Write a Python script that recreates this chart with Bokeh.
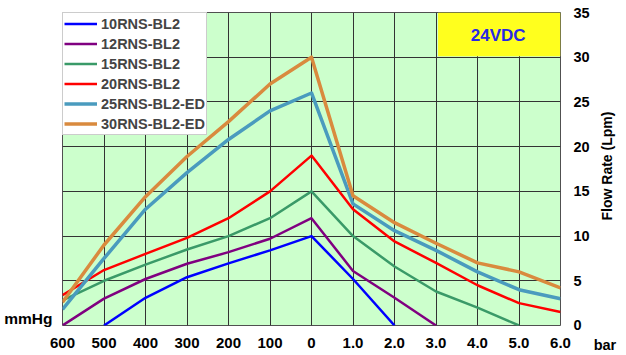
import numpy as np
from bokeh.plotting import figure
from bokeh.models import (Range1d, FixedTicker, Legend, LegendItem, Label, BoxAnnotation,
                          ColumnDataSource, LinearAxis)
from bokeh.embed import file_html
from bokeh.resources import INLINE

# ---- data ----
x_labels = ["600", "500", "400", "300", "200", "100", "0", "1.0", "2.0", "3.0", "4.0", "5.0", "6.0"]
y_ticks = [0, 5, 10, 15, 20, 25, 30, 35]
nan = float("nan")

names = ["10RNS-BL2", "12RNS-BL2", "15RNS-BL2", "20RNS-BL2", "25RNS-BL2-ED", "30RNS-BL2-ED"]
s10 = [nan, 0, 3.1, 5.4, 6.95, 8.4, 10, 5.2, 0, nan, nan, nan, nan]
s12 = [0, 3.0, 5.2, 6.9, 8.2, 9.7, 12, 6.1, 3.1, 0, nan, nan, nan]
s15 = [2.8, 5.0, 6.8, 8.5, 10.0, 12.0, 15, 10.0, 6.6, 3.8, 2.0, 0, nan]
s20 = [3.4, 6.2, 8.0, 9.8, 12.0, 15.0, 19, 13.0, 9.4, 7.0, 4.5, 2.5, 1.5]
s25 = [1.8, 7.5, 13.0, 17.1, 20.8, 24.0, 26, 13.6, 10.6, 8.4, 6.0, 4.0, 3.0]
s30 = [2.6, 9.0, 14.4, 18.9, 22.8, 27.0, 30, 14.5, 11.5, 9.2, 7.0, 6.0, 4.2]
series = [s10, s12, s15, s20, s25, s30]
colors = ["#0000FF", "#800080", "#3A9A68", "#FF0000", "#4A9BBE", "#D98A3E"]
widths = [2.5, 2.5, 2.5, 2.5, 3.5, 3.5]

FONT = "Liberation Sans"
NB = "\u00a0"

p = figure(width=626, height=352, output_backend="svg", toolbar_location=None,
           x_range=Range1d(0, 12), y_range=Range1d(0, 35), y_axis_location="right",
           min_border_left=62, min_border_right=61, min_border_top=12, min_border_bottom=27)
p.background_fill_color = "#CCFFCC"
p.border_fill_color = "white"
p.outline_line_color = "#505050"
p.outline_line_width = 1

xs = list(range(len(x_labels)))
p.xaxis.ticker = FixedTicker(ticks=xs)
p.xaxis.major_label_overrides = {i: lab for i, lab in enumerate(x_labels)}
p.yaxis.ticker = FixedTicker(ticks=y_ticks)
p.yaxis.major_label_overrides = {0: "\n0\n" + NB * 5 + "bar"}
for ax in (p.xaxis, p.yaxis):
    ax.axis_line_color = None
    ax.major_tick_line_color = None
    ax.minor_tick_line_color = None
    ax.major_tick_out = 0
    ax.minor_tick_out = 0
    ax.major_label_text_font = FONT
    ax.major_label_text_font_style = "bold"
    ax.major_label_text_color = "black"
p.xaxis.major_label_text_font_size = "15px"
p.yaxis.major_label_text_font_size = "14.5px"
p.xaxis.major_label_standoff = 12
p.yaxis.major_label_standoff = 13
p.yaxis.axis_label = NB * 27 + "Flow Rate (Lpm)"
p.yaxis.axis_label_orientation = np.pi / 2
p.yaxis.axis_label_align = "start"
p.yaxis.axis_label_text_font = FONT
p.yaxis.axis_label_text_font_style = "bold"
p.yaxis.axis_label_text_font_size = "14px"
p.yaxis.axis_label_text_line_height = 1.0
p.yaxis.axis_label_text_color = "black"
p.yaxis.axis_label_standoff = -12

# unit label on the left (pressure side)
unit_axis = LinearAxis(ticker=FixedTicker(ticks=[0.8]), major_label_overrides={0.8: "mmHg"},
                       axis_line_color=None, major_tick_line_color=None, minor_tick_line_color=None,
                       major_tick_out=0, minor_tick_out=0,
                       major_label_standoff=10, major_label_text_font=FONT,
                       major_label_text_font_style="bold", major_label_text_font_size="15.5px",
                       major_label_text_color="black")
p.add_layout(unit_axis, "left")

p.xgrid.ticker = FixedTicker(ticks=xs)
p.ygrid.ticker = FixedTicker(ticks=y_ticks)
for g in (p.xgrid, p.ygrid):
    g.grid_line_color = "#333333"
    g.grid_line_width = 1

# yellow voltage box
p.add_layout(BoxAnnotation(left=9.05, right=12, bottom=30.1, top=35,
                           fill_color="#FFFF1E", fill_alpha=1, line_color=None))
p.add_layout(Label(x=10.5, y=32.4, text="24VDC", text_align="center", text_baseline="middle",
                   text_font=FONT, text_font_style="bold", text_font_size="17px", text_color="#2828E6"))

items = []
for name, ys, c, w in zip(names, series, colors, widths):
    src = ColumnDataSource(dict(x=xs, y=ys))
    r = p.line("x", "y", source=src, line_color=c, line_width=w, line_join="round")
    items.append(LegendItem(label=name, renderers=[r]))

legend = Legend(items=items, location="top_left", margin=0, padding=1, spacing=1,
                label_height=19, glyph_height=19, glyph_width=33, label_standoff=4,
                label_text_font=FONT, label_text_font_style="bold", label_text_font_size="14.5px",
                border_line_color="#9A9A9A", border_line_width=1,
                background_fill_color="white", background_fill_alpha=1)
p.add_layout(legend)

open("out.html", "w").write(file_html(p, INLINE))
